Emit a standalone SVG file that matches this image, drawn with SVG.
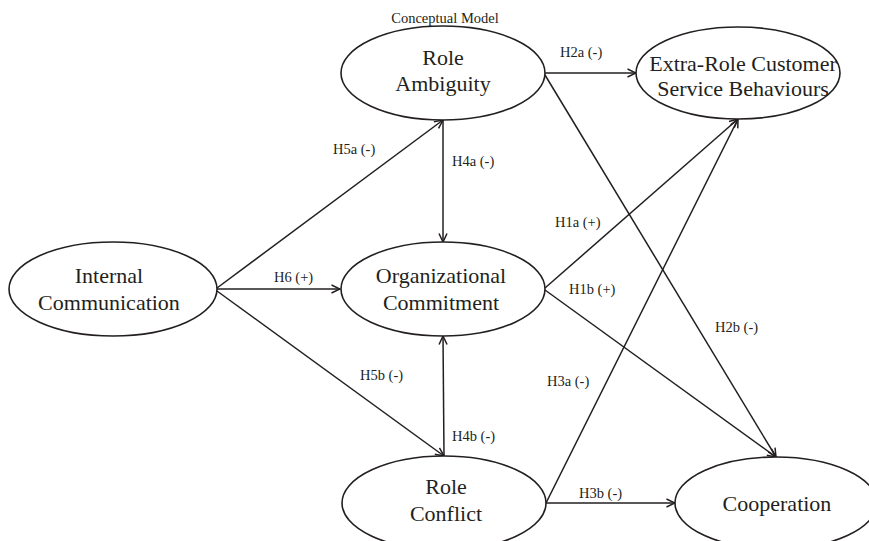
<svg xmlns="http://www.w3.org/2000/svg" width="869" height="541" viewBox="0 0 869 541">
<defs>
<style>
.node ellipse{fill:#fff;stroke:#231f20;stroke-width:1.6}
.nt{font-family:"Liberation Serif","Times New Roman",serif;font-size:22px;fill:#231f20;text-anchor:middle}
.lb{font-family:"Liberation Serif","Times New Roman",serif;font-size:14.5px;fill:#231f20}
.edges line{stroke:#231f20;stroke-width:1.5;fill:none;marker-end:url(#ah)}
</style>
<marker id="ah" viewBox="0 0 10 10" refX="9.5" refY="5" markerWidth="10" markerHeight="10" markerUnits="userSpaceOnUse" orient="auto">
<path d="M1,1 L9.5,5 L1,9" fill="none" stroke="#231f20" stroke-width="1.5"/>
</marker>
</defs>
<rect width="869" height="541" fill="#fff"/>
<text class="lb" x="445" y="23" text-anchor="middle">Conceptual Model</text>
<g class="edges" id="connectors">
<line x1="217" y1="288" x2="443" y2="120"/>
<line x1="217" y1="289" x2="340" y2="289"/>
<line x1="217" y1="291" x2="444" y2="456"/>
<line x1="443" y1="120" x2="443" y2="242"/>
<line x1="444" y1="456" x2="443" y2="336"/>
<line x1="545" y1="73" x2="636" y2="73"/>
<line x1="545" y1="75" x2="776" y2="457"/>
<line x1="545" y1="288" x2="738" y2="119"/>
<line x1="545" y1="290" x2="776" y2="457"/>
<line x1="546" y1="503" x2="738" y2="119"/>
<line x1="546" y1="503" x2="675" y2="503"/>
</g>
<g id="labels" class="lb">
<text x="560" y="57">H2a (-)</text>
<text x="333" y="154">H5a (-)</text>
<text x="452" y="166">H4a (-)</text>
<text x="555" y="227">H1a (+)</text>
<text x="274" y="282">H6 (+)</text>
<text x="569" y="294">H1b (+)</text>
<text x="715" y="332">H2b (-)</text>
<text x="360" y="380">H5b (-)</text>
<text x="547" y="386">H3a (-)</text>
<text x="452" y="441">H4b (-)</text>
<text x="579" y="498">H3b (-)</text>
</g>
<g id="role-ambiguity" class="node">
<ellipse cx="443" cy="73" rx="102" ry="47"/>
<text class="nt" x="443" y="65">Role</text>
<text class="nt" x="443" y="91">Ambiguity</text>
</g>
<g id="extra-role" class="node">
<ellipse cx="738" cy="73" rx="102" ry="46"/>
<text class="nt" x="743" y="71">Extra-Role Customer</text>
<text class="nt" x="743" y="96">Service Behaviours</text>
</g>
<g id="internal-communication" class="node">
<ellipse cx="113" cy="289" rx="104" ry="47"/>
<text class="nt" x="109" y="283">Internal</text>
<text class="nt" x="109" y="310">Communication</text>
</g>
<g id="organizational-commitment" class="node">
<ellipse cx="443" cy="289" rx="102" ry="47"/>
<text class="nt" x="441" y="283">Organizational</text>
<text class="nt" x="441" y="310">Commitment</text>
</g>
<g id="role-conflict" class="node">
<ellipse cx="444" cy="503" rx="102" ry="47"/>
<text class="nt" x="446" y="494">Role</text>
<text class="nt" x="446" y="521">Conflict</text>
</g>
<g id="cooperation" class="node">
<ellipse cx="776" cy="503" rx="101" ry="46"/>
<text class="nt" x="777" y="511">Cooperation</text>
</g>
</svg>
